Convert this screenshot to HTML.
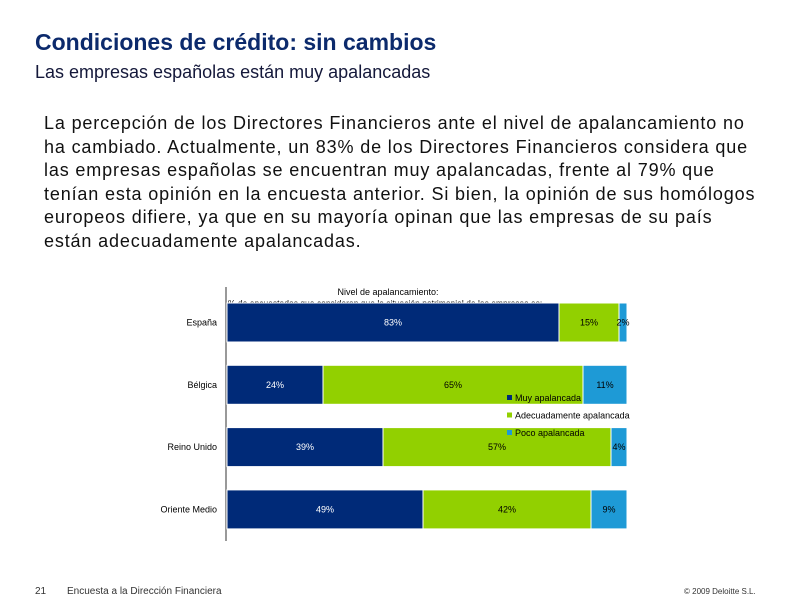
<!DOCTYPE html>
<html><head><meta charset="utf-8"><style>
body{margin:0;width:792px;height:612px;background:#fff;position:relative;overflow:hidden;font-family:"Liberation Sans",sans-serif}
.t{position:absolute;white-space:nowrap}
</style></head><body>
<div class="t" style="left:35px;top:29px;font-size:23px;font-weight:bold;color:#0c2a6c">Condiciones de crédito: sin cambios</div>
<div class="t" style="left:35px;top:62px;font-size:18px;color:#14183a">Las empresas españolas están muy apalancadas</div>
<div style="position:absolute;left:44px;top:112px;white-space:nowrap;font-size:18px;letter-spacing:0.85px;line-height:23.5px;color:#111">La percepción de los Directores Financieros ante el nivel de apalancamiento no<br>ha cambiado. Actualmente, un 83% de los Directores Financieros considera que<br>las empresas españolas se encuentran muy apalancadas, frente al 79% que<br>tenían esta opinión en la encuesta anterior. Si bien, la opinión de sus homólogos<br>europeos difiere, ya que en su mayoría opinan que las empresas de su país<br>están adecuadamente apalancadas.</div>
<svg id="c" width="792" height="612" style="position:absolute;left:0;top:0" font-family="Liberation Sans, sans-serif"></svg>
<div class="t" style="left:35px;top:586px;font-size:10px;color:#333">21</div>
<div class="t" style="left:67px;top:586px;font-size:10px;color:#333">Encuesta a la Dirección Financiera</div>
<div class="t" style="left:684px;top:587px;font-size:8px;color:#333">© 2009 Deloitte S.L.</div>
<script>
const categories=["España","Bélgica","Reino Unido","Oriente Medio"];
const muy=[83,24,39,49];
const adecuado=[15,65,57,42];
const poco=[2,11,4,9];
const seriesNames=["Muy apalancada","Adecuadamente apalancada","Poco apalancada"];
const colors=["#002a78","#92d000","#1e9ad6"];
const NS="http://www.w3.org/2000/svg";
const svg=document.getElementById('c');
const x0=227,W=400,yTop=303,step=62.3,bh=39;
const xs=v=>x0+v/100*W;
function mk(t,a){const e=document.createElementNS(NS,t);for(const k in a)e.setAttribute(k,a[k]);svg.appendChild(e);return e;}
const axis=mk('line',{x1:226,y1:287,x2:226,y2:541,stroke:'#999','stroke-width':2});


const t1=mk('text',{x:388,y:295,'font-size':9,'text-anchor':'middle',fill:'#000'});t1.textContent='Nivel de apalancamiento:';


const t2=mk('text',{x:228,y:306,'font-size':8.5,fill:'#000'});t2.textContent='% de encuestados que consideran que la situación patrimonial de las empresas es:';


const series=[muy,adecuado,poco];
categories.forEach((c,i)=>{
  const y=yTop+i*step;
  const lab=mk('text',{x:217,y:y+bh/2+3,'font-size':9,'text-anchor':'end',fill:'#000'});lab.textContent=c;
  
  
  let acc=0;
  series.forEach((s,j)=>{
    const v=s[i];
    const r=mk('rect',{x:xs(acc),y:y,width:xs(acc+v)-xs(acc),height:bh,fill:colors[j],stroke:'#fff','stroke-width':1});
    
    
    const tx=mk('text',{x:(xs(acc)+xs(acc+v))/2,y:y+bh/2+3,'font-size':9,'text-anchor':'middle',fill:j==0?'#fff':'#000'});tx.textContent=v+'%';
    
    
    acc+=v;
  });
});
seriesNames.forEach((n,j)=>{
  const y=401+j*17.5;
  const sq=mk('rect',{x:507,y:y-6,width:5,height:5,fill:colors[j]});
  
  
  const lt=mk('text',{x:515,y:y,'font-size':9,fill:'#000'});lt.textContent=n;
  
  
});
</script>
</body></html>
